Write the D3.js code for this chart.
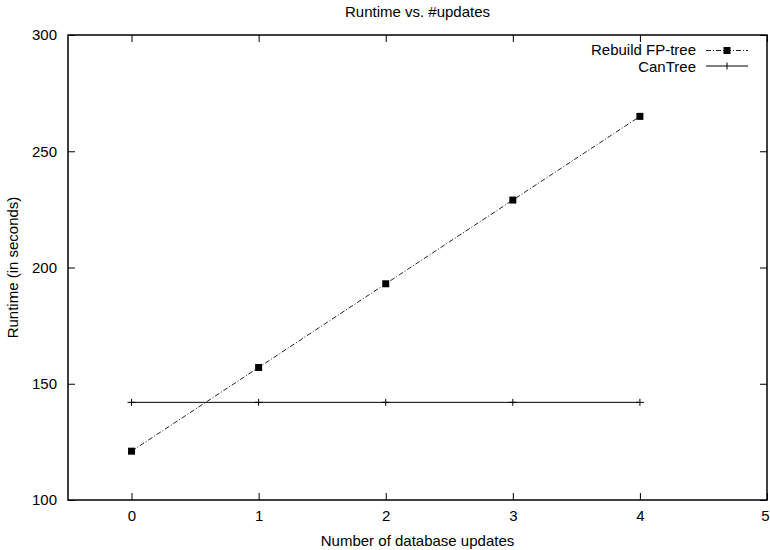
<!DOCTYPE html>
<html>
<head>
<meta charset="utf-8">
<script src="https://cdn.jsdelivr.net/npm/d3@7"></script>
<style>
  body { margin: 0; background: #fff; }
  text { font-family: "Liberation Sans", Arial, sans-serif; fill: #000; }
</style>
</head>
<body>
<div id="chart"></div>
<script>
// Chart data
const updates = [0, 1, 2, 3, 4];
const rebuildFP = [121, 157, 193, 229, 265];
const canTree = [142, 142, 142, 142, 142];
const xTicks = [0, 1, 2, 3, 4, 5];
const yTicks = [100, 150, 200, 250, 300];

const width = 770, height = 550;
const margin = { top: 35, right: 3, bottom: 50, left: 68 };
const plotWidth = width - margin.left - margin.right;
const plotHeight = height - margin.top - margin.bottom;
const fontSize = 15;

const svg = d3.select("#chart")
    .append("svg")
    .attr("width", width)
    .attr("height", height);

const g = svg.append("g")
    .attr("transform", `translate(${margin.left},${margin.top})`);

// Scales
const x = d3.scaleLinear().domain([-0.5, 5]).range([0, plotWidth]);
const y = d3.scaleLinear().domain([100, 300]).range([plotHeight, 0]);

// Ticks (inward, mirrored on all sides)
const tickLen = 7;
g.append("g").attr("transform", `translate(0,${plotHeight})`)
    .call(d3.axisBottom(x).tickValues(xTicks).tickSize(-tickLen).tickPadding(10).tickFormat(d3.format("d")))
    .call(a => a.select(".domain").remove())
    .call(a => a.selectAll("text").attr("font-size", fontSize).attr("font-family", "Liberation Sans, Arial, sans-serif"))
    // last label sits at the window edge; keep it inside
    .call(a => a.selectAll("text").filter(d => d === 5).attr("text-anchor", "end").attr("x", 2));
g.append("g")
    .call(d3.axisTop(x).tickValues(xTicks).tickSize(-tickLen).tickFormat(""))
    .call(a => a.select(".domain").remove());
g.append("g")
    .call(d3.axisLeft(y).tickValues(yTicks).tickSize(-tickLen).tickPadding(11))
    .call(a => a.select(".domain").remove())
    .call(a => a.selectAll("text").attr("font-size", fontSize).attr("font-family", "Liberation Sans, Arial, sans-serif"));
g.append("g").attr("transform", `translate(${plotWidth},0)`)
    .call(d3.axisRight(y).tickValues(yTicks).tickSize(-tickLen).tickFormat(""))
    .call(a => a.select(".domain").remove());

// Frame
g.append("rect")
    .attr("width", plotWidth)
    .attr("height", plotHeight)
    .attr("fill", "none")
    .attr("stroke", "#000")
    .attr("stroke-width", 1.5);

const line = d3.line().x(d => x(d[0])).y(d => y(d[1]));

// CanTree: solid line with plus markers
const canData = updates.map((u, i) => [u, canTree[i]]);
g.append("path")
    .datum(canData)
    .attr("fill", "none")
    .attr("stroke", "#000")
    .attr("stroke-width", 1)
    .attr("d", line);
g.selectAll(".plus")
    .data(canData)
    .enter().append("path")
    .attr("class", "plus")
    .attr("transform", d => `translate(${x(d[0])},${y(d[1])})`)
    .attr("d", "M-4,0H4M0,-3.5V3.5")
    .attr("stroke", "#000")
    .attr("stroke-width", 1);

// Rebuild FP-tree: dash-dot line with square markers
const fpData = updates.map((u, i) => [u, rebuildFP[i]]);
g.append("path")
    .datum(fpData)
    .attr("fill", "none")
    .attr("stroke", "#222")
    .attr("stroke-width", 1)
    .attr("stroke-dasharray", "5,2,1,2")
    .attr("d", line);
g.selectAll(".sq")
    .data(fpData)
    .enter().append("rect")
    .attr("class", "sq")
    .attr("x", d => x(d[0]) - 3.5)
    .attr("y", d => y(d[1]) - 3.5)
    .attr("width", 7)
    .attr("height", 7)
    .attr("fill", "#000");

// Legend
const legend = svg.append("g");
const legendItems = [
    { name: "Rebuild FP-tree", dash: "5,2,1,2", marker: "sq", y: 50.5, base: 55 },
    { name: "CanTree", dash: null, marker: "plus", y: 66, base: 72 }
];
legendItems.forEach(item => {
    legend.append("text")
        .attr("x", 696)
        .attr("y", item.base)
        .attr("text-anchor", "end")
        .attr("font-size", fontSize)
        .text(item.name);
    legend.append("line")
        .attr("x1", 706).attr("x2", 748)
        .attr("y1", item.y).attr("y2", item.y)
        .attr("stroke", item.dash ? "#222" : "#000")
        .attr("stroke-dasharray", item.dash);
    if (item.marker === "sq") {
        legend.append("rect")
            .attr("x", 727 - 3.5).attr("y", item.y - 3.5)
            .attr("width", 7).attr("height", 7)
            .attr("fill", "#000");
    } else {
        legend.append("path")
            .attr("transform", `translate(727,${item.y})`)
            .attr("d", "M0,-3.5V3.5")
            .attr("stroke", "#000");
    }
});

// Title and axis labels
svg.append("text")
    .attr("x", margin.left + plotWidth / 2)
    .attr("y", 17)
    .attr("text-anchor", "middle")
    .attr("font-size", fontSize)
    .text("Runtime vs. #updates");

svg.append("text")
    .attr("x", margin.left + plotWidth / 2)
    .attr("y", 546)
    .attr("text-anchor", "middle")
    .attr("font-size", fontSize)
    .text("Number of database updates");

svg.append("text")
    .attr("transform", `translate(18,${margin.top + plotHeight / 2}) rotate(-90)`)
    .attr("text-anchor", "middle")
    .attr("font-size", fontSize)
    .text("Runtime (in seconds)");
</script>
</body>
</html>
